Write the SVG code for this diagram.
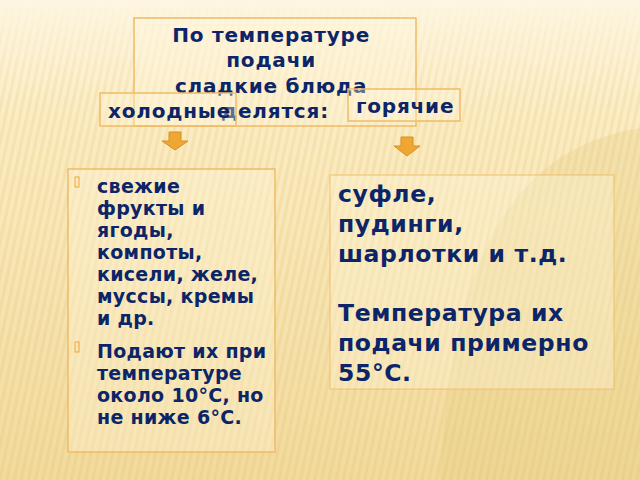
<svg xmlns="http://www.w3.org/2000/svg" width="640" height="480" viewBox="0 0 640 480">
<defs>
<linearGradient id="bg" x1="0" y1="0" x2="0" y2="1">
<stop offset="0" stop-color="#fef6e2"/>
<stop offset="0.25" stop-color="#fbecc2"/>
<stop offset="1" stop-color="#f2da9c"/>
</linearGradient>
<pattern id="stripes" width="7" height="20" patternUnits="userSpaceOnUse" patternTransform="rotate(12)">
<rect x="0" y="0" width="3" height="20" fill="#dcb860" opacity="0.16"/>
</pattern>
<linearGradient id="fade" x1="0" y1="0" x2="0" y2="1">
<stop offset="0" stop-color="#fff" stop-opacity="0"/>
<stop offset="0.2" stop-color="#fff" stop-opacity="1"/>
<stop offset="1" stop-color="#fff" stop-opacity="1"/>
</linearGradient>
<mask id="m"><rect width="640" height="480" fill="url(#fade)"/></mask>
<style>
.t{font-family:"DejaVu Sans","Noto Sans",sans-serif;font-weight:bold;fill:#0c2568}
.box{fill:#fff6dc;fill-opacity:0.35;stroke:#f0bb66;stroke-width:1.5}
.arrow{fill:#eea733;stroke:#d98f1c;stroke-width:1}
.bul{fill:none;stroke:#eea733;stroke-width:1}
</style>
</defs>
<rect width="640" height="480" fill="url(#bg)"/>
<path d="M440 480 C450 280 500 150 640 128 L640 480 Z" fill="#e6cc80" opacity="0.3"/>
<rect width="640" height="480" fill="url(#stripes)" mask="url(#m)"/>

<g id="connectors">
<path class="arrow" d="M169 132 H181 V141 H188 L175 150 L162 141 H169 Z"/>
<path class="arrow" d="M401 137 H413 V146 H420 L407 156 L394 146 H401 Z"/>
</g>

<g id="title">
<rect class="box" x="134" y="18" width="282" height="108"/>
<text class="t" font-size="20" text-anchor="middle" letter-spacing="0.8">
<tspan x="275" y="42">По температуре</tspan>
<tspan x="275" y="67">подачи</tspan>
<tspan x="275" y="93">сладкие блюда</tspan>
<tspan x="275" y="118">делятся:</tspan>
</text>
</g>

<g id="cold">
<rect class="box" x="100" y="93" width="136" height="33" fill-opacity="0"/>
<text class="t" font-size="20" x="108" y="118" letter-spacing="0.8">холодные</text>
</g>

<g id="hot">
<rect class="box" x="348" y="89" width="112" height="32" fill-opacity="0"/>
<text class="t" font-size="20" x="356" y="113" letter-spacing="0.8">горячие</text>
</g>

<g id="cold-list">
<rect class="box" x="68" y="169" width="207" height="283"/>
<rect class="bul" x="75" y="177" width="4" height="10"/>
<rect class="bul" x="75" y="342" width="4" height="10"/>
<text class="t" font-size="19" letter-spacing="0.3">
<tspan x="97" y="193">свежие</tspan>
<tspan x="97" y="215">фрукты и</tspan>
<tspan x="97" y="237">ягоды,</tspan>
<tspan x="97" y="259">компоты,</tspan>
<tspan x="97" y="281">кисели, желе,</tspan>
<tspan x="97" y="303">муссы, кремы</tspan>
<tspan x="97" y="325">и др.</tspan>
<tspan x="97" y="358">Подают их при</tspan>
<tspan x="97" y="380">температуре</tspan>
<tspan x="97" y="402">около 10°С, но</tspan>
<tspan x="97" y="424">не ниже 6°С.</tspan>
</text>
</g>

<g id="hot-list">
<rect class="box" x="330" y="175" width="284" height="214" stroke-width="1" stroke-opacity="0.6"/>
<text class="t" font-size="23.5" letter-spacing="0.6">
<tspan x="338" y="202">суфле,</tspan>
<tspan x="338" y="232">пудинги,</tspan>
<tspan x="338" y="262">шарлотки и т.д.</tspan>
<tspan x="338" y="321">Температура их</tspan>
<tspan x="338" y="351">подачи примерно</tspan>
<tspan x="338" y="381">55°С.</tspan>
</text>
</g>
</svg>
